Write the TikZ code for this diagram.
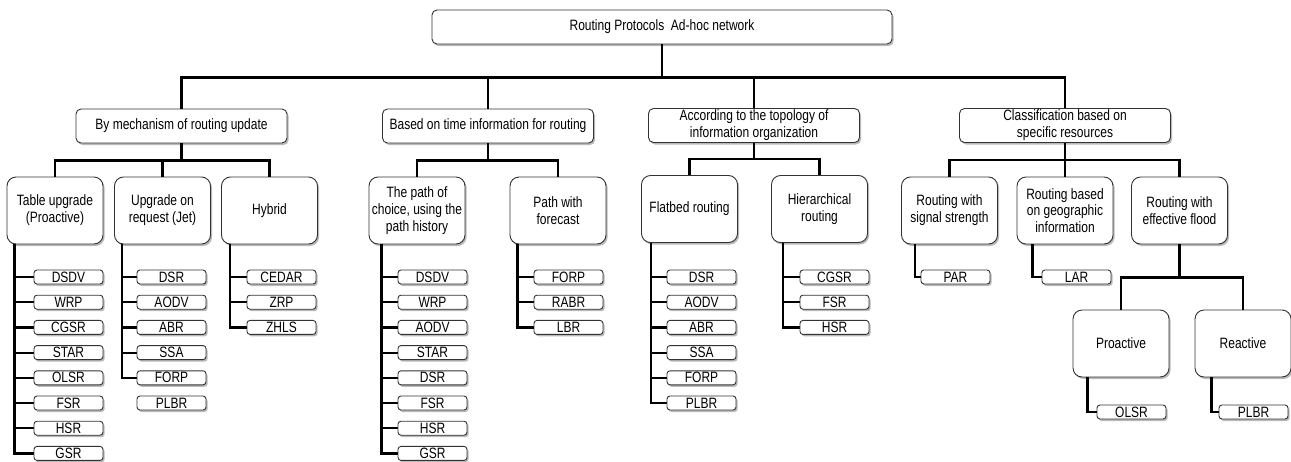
\documentclass[tikz,border=0pt]{standalone}
\usepackage{fontspec}
\setmainfont{Liberation Sans}[FakeStretch=0.8]
\usetikzlibrary{shadows}
\tikzset{
 conn/.style={line width=2.2pt, black},
 bx/.style={draw=black!80, line width=0.9pt, fill=white, align=center, inner sep=0pt,
   font=\fontsize{15}{16.8}\selectfont,
   drop shadow={shadow xshift=1.6pt,shadow yshift=-2pt,fill=black!55}},
 topbox/.style={bx, rounded corners=5pt, minimum width=460pt, minimum height=34pt},
 catbox/.style={bx, rounded corners=5pt, minimum width=211pt, minimum height=34pt},
 subbox/.style={bx, rounded corners=9pt, minimum width=96pt, minimum height=67pt},
 leafbox/.style={bx, rounded corners=3pt, minimum width=69pt, minimum height=14pt},
}
\begin{document}
\begin{tikzpicture}[x=1pt,y=-1pt]
\useasboundingbox (0,0) rectangle (1291,461);
% root and categories
\node[topbox] (root) at (662,27) {Routing Protocols\ \ Ad-hoc network};
\node[catbox] (ca) at (181.5,126) {By mechanism of routing update};
\node[catbox] (cb) at (488,126) {Based on time information for routing};
\node[catbox] (cc) at (754,125.5) {According to the topology of\\information organization};
\node[catbox] (cd) at (1065,125.5) {Classification based on\\specific resources};
\foreach \c in {ca,cb,cc,cd} \draw[conn] (root.south) -- ++(0,33) -| (\c.north);
% sub boxes
\node[subbox] (a1) at (55,210.5) {Table upgrade\\(Proactive)};
\node[subbox] (a2) at (162.5,210.5) {Upgrade on\\request (Jet)};
\node[subbox] (a3) at (269.5,210.5) {Hybrid};
\node[subbox] (b1) at (417,210.5) {The path of\\choice, using the\\path history};
\node[subbox] (b2) at (558,210.5) {Path with\\forecast};
\node[subbox] (c1) at (689.5,209) {Flatbed routing};
\node[subbox] (c2) at (819.5,209) {Hierarchical\\routing};
\node[subbox] (d1) at (949.5,210.5) {Routing with\\signal strength};
\node[subbox] (d2) at (1065,210.5) {Routing based\\on geographic\\information};
\node[subbox] (d3) at (1179.5,210.5) {Routing with\\effective flood};
\node[subbox] (e1) at (1121,343.5) {Proactive};
\node[subbox] (e2) at (1243,343.5) {Reactive};
\foreach \s in {a1,a2,a3} \draw[conn] (ca.south) -- ++(0,17) -| (\s.north);
\foreach \s in {b1,b2} \draw[conn] (cb.south) -- ++(0,17) -| (\s.north);
\foreach \s in {c1,c2} \draw[conn] (cc.south) -- ++(0,16) -| (\s.north);
\foreach \s in {d1,d2,d3} \draw[conn] (cd.south) -- ++(0,17) -| (\s.north);
\foreach \s in {e1,e2} \draw[conn] (d3.south) -- ++(0,33) -| (\s.north);
% leaves
\foreach \t [count=\i from 0] in {DSDV,WRP,CGSR,STAR,OLSR,FSR,HSR,GSR} {
  \draw[conn] (a1.south west) ++(8,0) |- (68.5,{277+25.2*\i});
  \node[leafbox] (la1\i) at (68.5,{277+25.2*\i}) {\t};}
\foreach \t [count=\i from 0] in {DSR,AODV,ABR,SSA,FORP} {
  \draw[conn] (a2.south west) ++(8,0) |- (171.5,{277+25.2*\i});
  \node[leafbox] (la2\i) at (171.5,{277+25.2*\i}) {\t};}
\node[leafbox] (la25) at (171.5,403) {PLBR};
\foreach \t [count=\i from 0] in {CEDAR,ZRP,ZHLS} {
  \draw[conn] (a3.south west) ++(9,0) |- (281.5,{277+25.2*\i});
  \node[leafbox] (la3\i) at (281.5,{277+25.2*\i}) {\t};}
\foreach \t [count=\i from 0] in {DSDV,WRP,AODV,STAR,DSR,FSR,HSR,GSR} {
  \draw[conn] (b1.south west) ++(13,0) |- (432.5,{277+25.2*\i});
  \node[leafbox] (lb1\i) at (432.5,{277+25.2*\i}) {\t};}
\foreach \t [count=\i from 0] in {FORP,RABR,LBR} {
  \draw[conn] (b2.south west) ++(8,0) |- (568.5,{277+25.2*\i});
  \node[leafbox] (lb2\i) at (568.5,{277+25.2*\i}) {\t};}
\foreach \t [count=\i from 0] in {DSR,AODV,ABR,SSA,FORP,PLBR} {
  \draw[conn] (c1.south west) ++(10,0) |- (701.5,{277+25.2*\i});
  \node[leafbox] (lc1\i) at (701.5,{277+25.2*\i}) {\t};}
\foreach \t [count=\i from 0] in {CGSR,FSR,HSR} {
  \draw[conn] (c2.south west) ++(12,0) |- (834.5,{277+25.2*\i});
  \node[leafbox] (lc2\i) at (834.5,{277+25.2*\i}) {\t};}
\node[leafbox] (ld1) at (955.5,277) {PAR};
\node[leafbox] (ld2) at (1076.5,277) {LAR};
\node[leafbox] (le1) at (1131.5,412) {OLSR};
\node[leafbox] (le2) at (1253.5,412) {PLBR};
\draw[conn] (d1.south west) ++(14,0) |- (ld1.west);
\draw[conn] (d2.south west) ++(16,0) |- (ld2.west);
\draw[conn] (e1.south west) ++(15,0) |- (le1.west);
\draw[conn] (e2.south west) ++(17,0) |- (le2.west);
\end{tikzpicture}
\end{document}
